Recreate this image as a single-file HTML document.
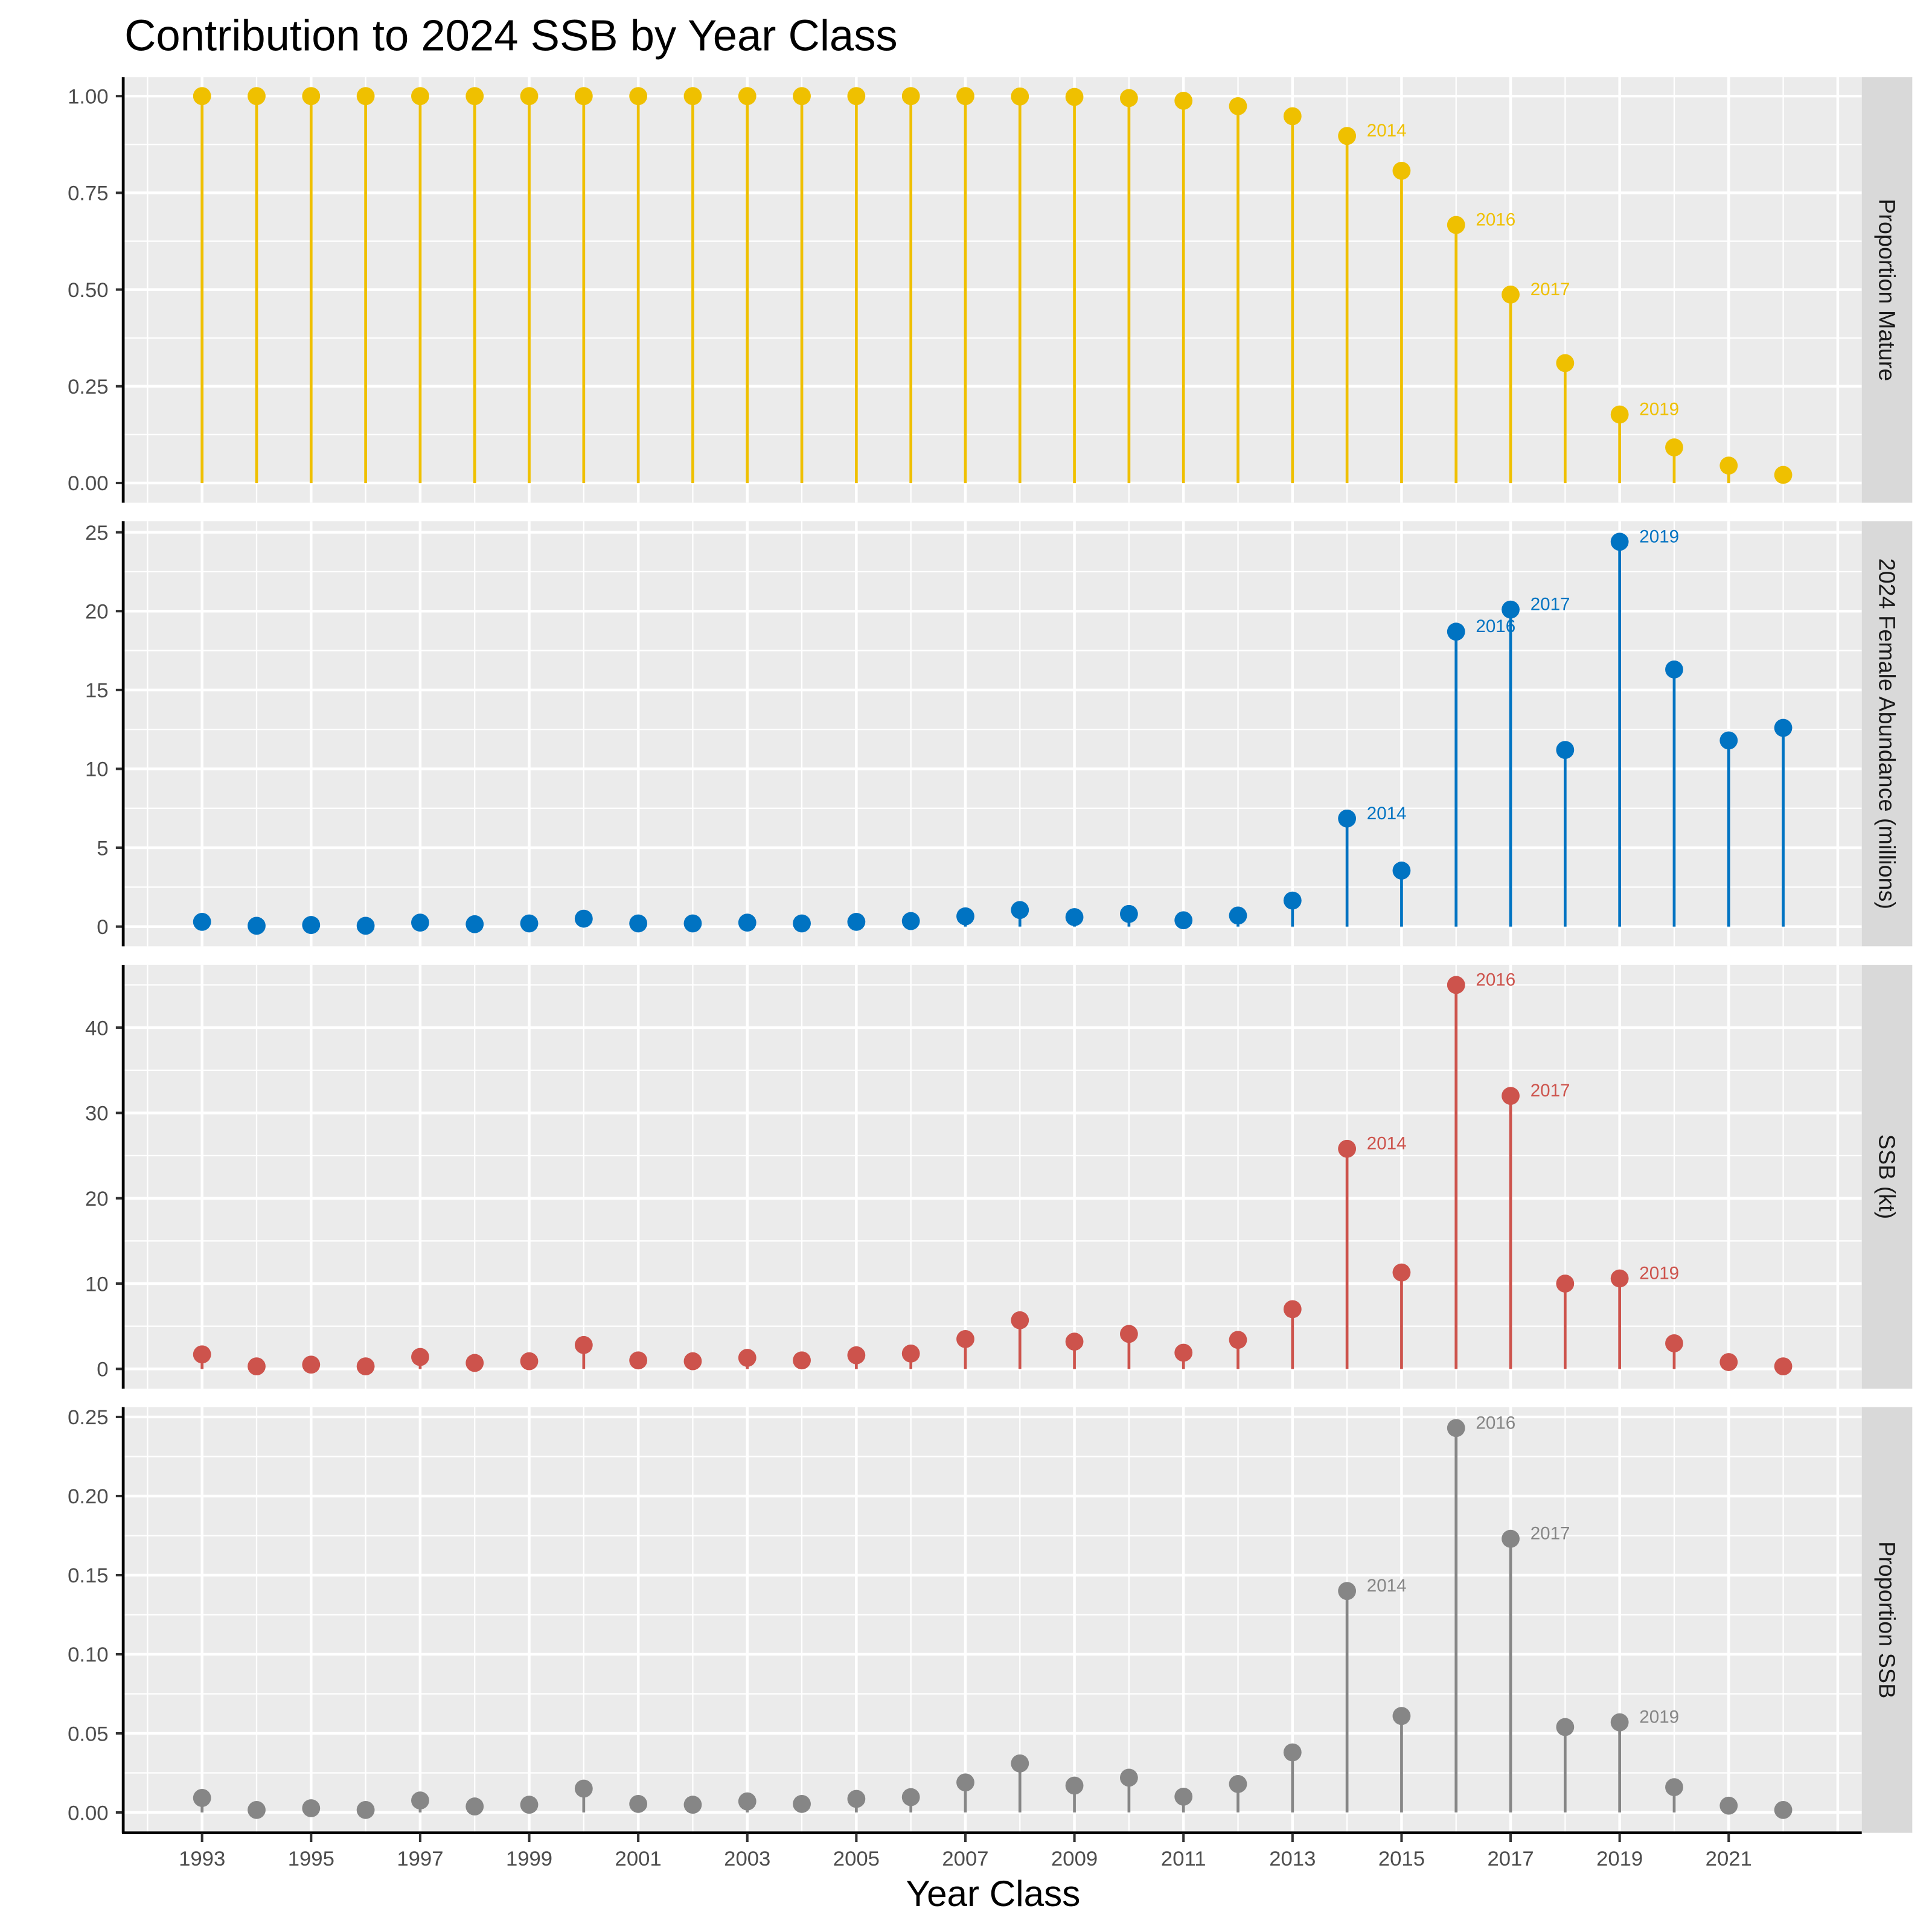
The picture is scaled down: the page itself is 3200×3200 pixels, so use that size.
<!DOCTYPE html>
<html><head><meta charset="utf-8"><style>
html,body{margin:0;padding:0;background:#fff;}
svg{display:block;font-family:"Liberation Sans",Arial,sans-serif;}
</style></head><body>
<svg id="chart" width="3200" height="3200" viewBox="0 0 1568 1568" xmlns="http://www.w3.org/2000/svg">
<text x="101" y="41" font-size="35.5" fill="#000">Contribution to 2024 SSB by Year Class</text>
<text x="806" y="1547" font-size="29.5" fill="#000" text-anchor="middle">Year Class</text>
</svg>
<script>
const years = [1993,1994,1995,1996,1997,1998,1999,2000,2001,2002,2003,2004,2005,2006,2007,2008,2009,2010,2011,2012,2013,2014,2015,2016,2017,2018,2019,2020,2021,2022];
const maturity = [1,1,1,1,1,1,1,1,1,1,1,1,1,1,1,0.999,0.998,0.995,0.988,0.974,0.948,0.897,0.807,0.667,0.487,0.31,0.177,0.092,0.045,0.021];
const abundance = [0.3,0.05,0.1,0.05,0.25,0.15,0.2,0.5,0.2,0.2,0.25,0.2,0.3,0.35,0.65,1.05,0.6,0.8,0.4,0.7,1.65,6.85,3.55,18.7,20.1,11.2,24.4,16.3,11.8,12.6];
const ssb = [1.7,0.3,0.5,0.3,1.4,0.7,0.9,2.8,1.0,0.9,1.3,1.0,1.6,1.8,3.5,5.7,3.2,4.1,1.9,3.4,7.0,25.8,11.3,45.0,32.0,10.0,10.6,3.0,0.8,0.3];
const propSsb = [0.0092,0.0016,0.0027,0.0016,0.0076,0.0038,0.0049,0.0151,0.0054,0.0049,0.007,0.0054,0.0086,0.0097,0.019,0.031,0.017,0.022,0.010,0.018,0.038,0.140,0.061,0.243,0.173,0.054,0.057,0.016,0.0043,0.0016];
const labelYears = [2014,2016,2017,2019];
const xTicks = [1993,1995,1997,1999,2001,2003,2005,2007,2009,2011,2013,2015,2017,2019,2021];
const ticks1 = ["0.00","0.25","0.50","0.75","1.00"];
const ticks2 = ["0","5","10","15","20","25"];
const ticks3 = ["0","10","20","30","40"];
const ticks4 = ["0.00","0.05","0.10","0.15","0.20","0.25"];

const NS="http://www.w3.org/2000/svg";
const svg=document.getElementById('chart');
const PL=100, PR=1511, SR=1552;
function xs(y){return 164+(y-1993)*44.25;}
function mk(tag,attrs,parent){const e=document.createElementNS(NS,tag);for(const k in attrs)e.setAttribute(k,attrs[k]);(parent||svg).appendChild(e);return e;}

const panels=[
 {name:'proportion-mature',top:62.7,bot:408,vTop:1,yTop:78,y0:392,ticks:ticks1,step:0.25,vals:maturity,color:'#EFC000',strip:'Proportion Mature'},
 {name:'female-abundance',top:423,bot:768,vTop:25,yTop:432,y0:752,ticks:ticks2,step:5,vals:abundance,color:'#0073C2',strip:'2024 Female Abundance (millions)'},
 {name:'ssb-kt',top:783,bot:1127,vTop:40,yTop:834,y0:1111,ticks:ticks3,step:10,vals:ssb,color:'#CD534C',strip:'SSB (kt)'},
 {name:'proportion-ssb',top:1142,bot:1487.5,vTop:0.25,yTop:1150,y0:1471,ticks:ticks4,step:0.05,vals:propSsb,color:'#868686',strip:'Proportion SSB'}
];
panels.forEach((p,pi)=>{
  const g=mk('g',{});
  
  
  const ys=v=>p.y0+(v/p.vTop)*(p.yTop-p.y0);
  const bg=mk('rect',{x:PL,y:p.top,width:PR-PL,height:p.bot-p.top,fill:'#EBEBEB'},g);
  
  
  const n=p.ticks.length;
  for(let i=0;i<n;i++){
    const v=i*p.step, y=ys(v);
    mk('line',{x1:PL,x2:PR,y1:y,y2:y,stroke:'#fff','stroke-width':2.2},g);
    if(i<n-1){const ym=ys(v+p.step/2);mk('line',{x1:PL,x2:PR,y1:ym,y2:ym,stroke:'#fff','stroke-width':1.1},g);}
    const ym2=ys(v+p.step/2);
    if(i==n-1 && ym2>p.top) mk('line',{x1:PL,x2:PR,y1:ym2,y2:ym2,stroke:'#fff','stroke-width':1.1},g);
    const tl=mk('text',{x:88,y:y+6,'font-size':17,fill:'#4D4D4D','text-anchor':'end'},g);
    tl.textContent=p.ticks[i];
    
    
    mk('line',{x1:94,x2:PL,y1:y,y2:y,stroke:'#333','stroke-width':2},g);
  }
  const yneg=ys(-p.step/2); if(yneg<p.bot) mk('line',{x1:PL,x2:PR,y1:yneg,y2:yneg,stroke:'#fff','stroke-width':1.1},g);
  for(let yr=1992;yr<=2023;yr++){
    const major=(yr%2==1 && yr<=2023);
    mk('line',{x1:xs(yr),x2:xs(yr),y1:p.top,y2:p.bot,stroke:'#fff','stroke-width':major?2.2:1.1},g);
  }
  years.forEach((yr,i)=>{
    const v=p.vals[i];
    const s=mk('line',{x1:xs(yr),x2:xs(yr),y1:ys(0),y2:ys(v),stroke:p.color,'stroke-width':2.3},g);
    
    
    const c=mk('circle',{cx:xs(yr),cy:ys(v),r:7.3,fill:p.color},g);
    
    
    if(labelYears.includes(yr)){
      const t=mk('text',{x:xs(yr)+16,y:ys(v)+0.5,'font-size':14.5,fill:p.color},g);
      t.textContent=String(yr);
      
      
    }
  });
  mk('line',{x1:PL,x2:PL,y1:p.top,y2:p.bot,stroke:'#000','stroke-width':2.3},g);
  const st=mk('rect',{x:PR,y:p.top,width:SR-PR,height:p.bot-p.top,fill:'#D9D9D9'},g);
  
  
  const cy=(p.top+p.bot)/2;
  const stt=mk('text',{x:1531.5,y:cy,'font-size':18.5,fill:'#1A1A1A','text-anchor':'middle','dominant-baseline':'central',transform:'rotate(90 1531.5 '+cy+')'},g);
  stt.textContent=p.strip;
  
  
});
const ax=mk('line',{x1:99,x2:PR,y1:1487.5,y2:1487.5,stroke:'#000','stroke-width':2.3});


xTicks.forEach(yr=>{
  mk('line',{x1:xs(yr),x2:xs(yr),y1:1488,y2:1495,stroke:'#333','stroke-width':2});
  const t=mk('text',{x:xs(yr),y:1514,'font-size':17,fill:'#4D4D4D','text-anchor':'middle'});
  t.textContent=String(yr);
  
  
});
</script>
</body></html>
